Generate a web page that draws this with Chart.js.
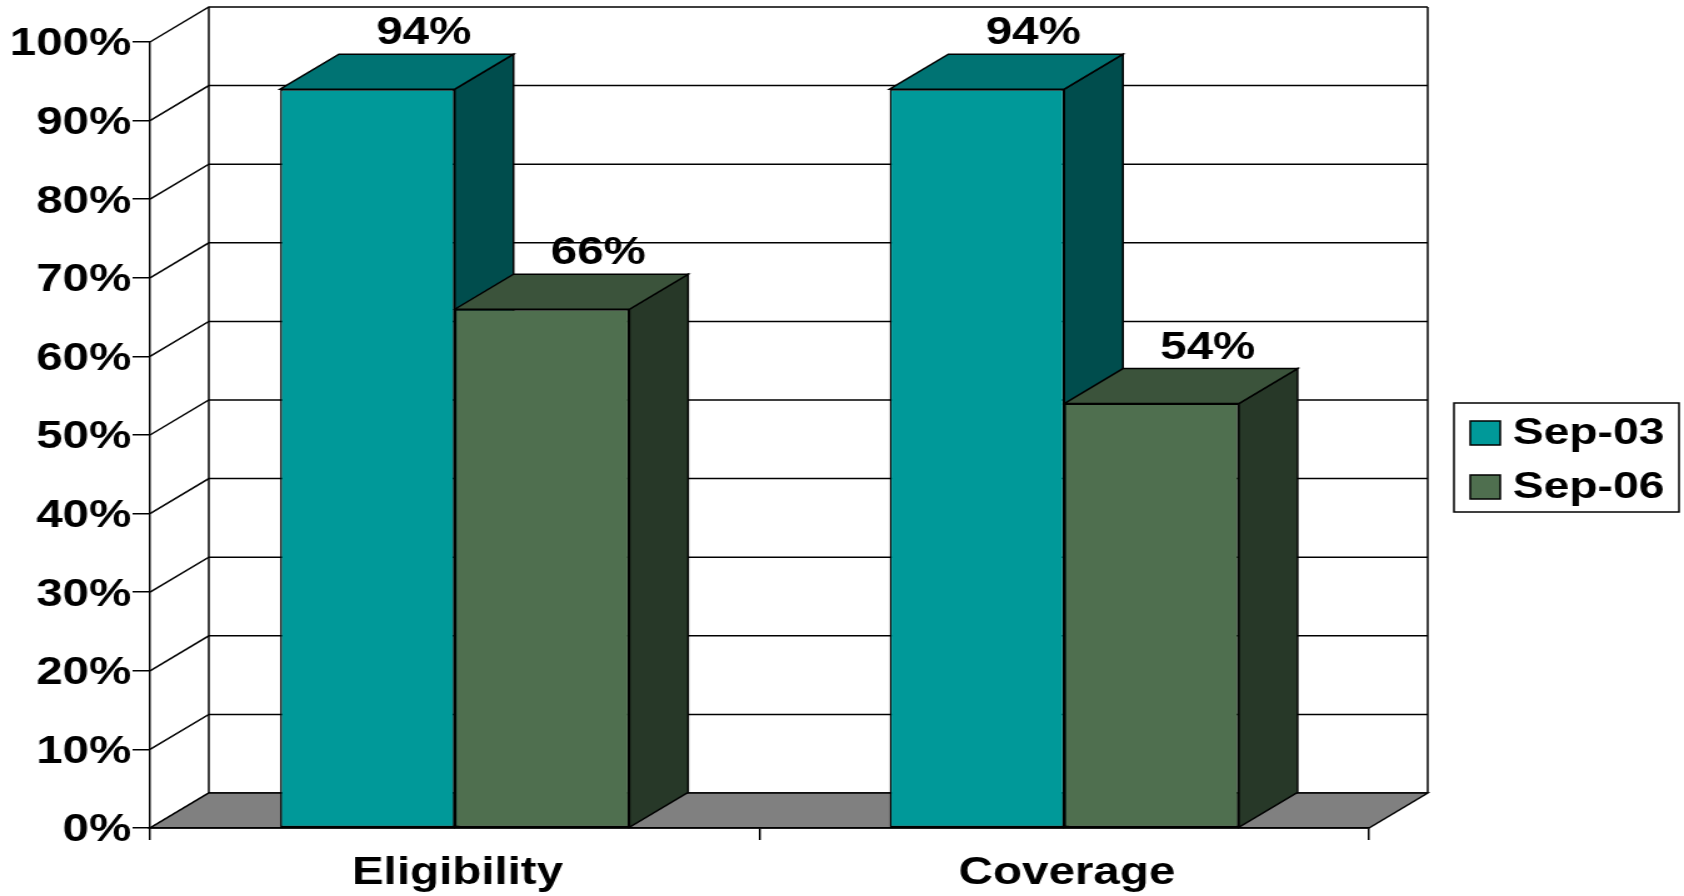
<!DOCTYPE html>
<html>
<head>
<meta charset="utf-8">
<script src="https://cdn.jsdelivr.net/npm/chart.js@4/dist/chart.umd.min.js"></script>
<style>
  html, body { margin: 0; padding: 0; background: #fff; }
  #wrap { width: 1684px; height: 896px; overflow: hidden; }
  /* the chart is laid out narrow and stretched sideways, like the wide bold lettering of the slide */
  #chart { width: 1347px; height: 896px; transform: scaleX(1.25019); transform-origin: 0 0; }
</style>
</head>
<body>
<div id="wrap"><canvas id="chart" width="1347" height="896"></canvas></div>
<script>
const categories = ['Eligibility', 'Coverage'];
const seriesNames = ['Sep-03', 'Sep-06'];
const sep03Values = [94, 94];
const sep06Values = [66, 54];
const seriesValues = [sep03Values, sep06Values];

const frontColors = ['#009999', '#4F6F4F'];
const topColors = ['#007373', '#3B533B'];
const sideColors = ['#004D4D', '#273828'];

const FONT = '"Liberation Sans", Arial, Helvetica, sans-serif';
const DX = 47, DY = 35;   // depth of the 3d box

function shape(ctx, pts, fill) {
    ctx.beginPath();
    ctx.moveTo(pts[0][0], pts[0][1]);
    for (let i = 1; i < pts.length; i++) ctx.lineTo(pts[i][0], pts[i][1]);
    ctx.closePath();
    if (fill) { ctx.fillStyle = fill; ctx.fill(); }
    ctx.stroke();
}

const box3d = {
    id: 'box3d',
    beforeDraw(chart) {
        const { ctx, chartArea: a, scales: { y } } = chart;
        ctx.save();
        ctx.lineWidth = 1.5;
        ctx.strokeStyle = '#000';
        // back wall
        ctx.fillStyle = '#fff';
        ctx.fillRect(a.left + DX, a.top - DY, a.right - a.left, a.bottom - a.top);
        y.ticks.forEach(t => {
            const py = y.getPixelForValue(t.value);
            ctx.beginPath();
            ctx.moveTo(a.left, py);
            ctx.lineTo(a.left + DX, py - DY);
            ctx.lineTo(a.right + DX, py - DY);
            ctx.stroke();
        });
        ctx.beginPath();
        ctx.moveTo(a.left + DX, a.top - DY); ctx.lineTo(a.left + DX, a.bottom - DY);
        ctx.moveTo(a.right + DX, a.top - DY); ctx.lineTo(a.right + DX, a.bottom - DY);
        ctx.stroke();
        // floor
        shape(ctx, [[a.left, a.bottom], [a.right, a.bottom], [a.right + DX, a.bottom - DY], [a.left + DX, a.bottom - DY]], '#808080');
        ctx.restore();
    },
    beforeDatasetsDraw(chart) {
        const ctx = chart.ctx;
        ctx.save();
        ctx.lineWidth = 1.5;
        ctx.strokeStyle = '#000';
        categories.forEach((_, i) => {
            seriesNames.forEach((_, d) => {
                const { x, y, base, width } = chart.getDatasetMeta(d).data[i].getProps(['x', 'y', 'base', 'width'], true);
                const l = x - width / 2, r = x + width / 2;
                shape(ctx, [[r, y], [r + DX, y - DY], [r + DX, base - DY], [r, base]], sideColors[d]);
                shape(ctx, [[l, y], [l + DX, y - DY], [r + DX, y - DY], [r, y]], topColors[d]);
            });
        });
        ctx.restore();
    },
    afterDatasetsDraw(chart) {
        const ctx = chart.ctx;
        ctx.save();
        ctx.font = `bold 38px ${FONT}`;
        ctx.fillStyle = '#000';
        ctx.textAlign = 'center';
        ctx.textBaseline = 'alphabetic';
        seriesNames.forEach((_, d) => {
            chart.getDatasetMeta(d).data.forEach((bar, i) => {
                ctx.fillText(seriesValues[d][i] + '%', bar.x + 45, bar.y - DY - 10);
            });
        });
        ctx.restore();
    },
    afterDraw(chart) {
        // legend box on the right
        const ctx = chart.ctx;
        const lx = 1163, ly = 403, lw = 180, lh = 109;
        ctx.save();
        ctx.lineWidth = 1.5;
        ctx.strokeStyle = '#000';
        ctx.strokeRect(lx, ly, lw, lh);
        ctx.font = `bold 37px ${FONT}`;
        ctx.textBaseline = 'middle';
        ctx.textAlign = 'left';
        seriesNames.forEach((name, d) => {
            const sy = ly + 18 + d * 54;
            ctx.fillStyle = frontColors[d];
            ctx.fillRect(lx + 13, sy, 24, 24);
            ctx.strokeRect(lx + 13, sy, 24, 24);
            ctx.fillStyle = '#000';
            ctx.fillText(name, lx + 47, sy + 13);
        });
        ctx.restore();
    }
};

new Chart(document.getElementById('chart'), {
    type: 'bar',
    data: {
        labels: categories,
        datasets: seriesNames.map((name, d) => ({
            label: name,
            data: seriesValues[d],
            backgroundColor: frontColors[d],
            borderColor: '#000',
            borderWidth: 1.5,
            borderSkipped: false,
            categoryPercentage: 0.573,
            barPercentage: 1
        }))
    },
    options: {
        responsive: false,
        animation: false,
        devicePixelRatio: 1,
        layout: { padding: { top: 42, right: 252, left: 0, bottom: 0 } },
        plugins: { legend: { display: false }, tooltip: { enabled: false } },
        scales: {
            x: {
                offset: true,
                grid: { drawOnChartArea: false, tickLength: 12, color: '#000', lineWidth: 1.5, offset: true },
                border: { color: '#000', width: 1.5 },
                ticks: { color: '#000', font: { family: FONT, size: 38, weight: 'bold' }, padding: 11, labelOffset: 2.2, maxRotation: 0, autoSkip: false },
                afterFit(s) { s.height = 68; }
            },
            y: {
                min: 0,
                max: 100,
                grid: { drawOnChartArea: false, tickLength: 14, color: '#000', lineWidth: 1.5 },
                border: { color: '#000', width: 1.5 },
                ticks: { stepSize: 10, color: '#000', font: { family: FONT, size: 38, weight: 'bold' }, padding: 1, labelOffset: 3, callback: v => v + '%' },
                afterFit(s) { s.width = 120; }
            }
        }
    },
    plugins: [box3d]
});
</script>
</body>
</html>
